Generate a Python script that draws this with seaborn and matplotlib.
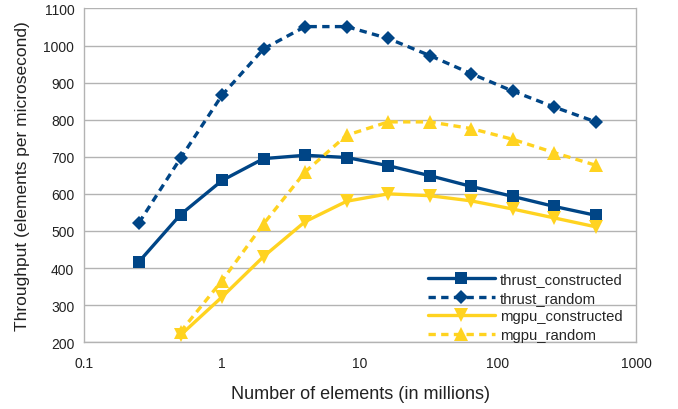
import matplotlib
matplotlib.use("Agg")
import matplotlib.pyplot as plt
from matplotlib.ticker import FixedLocator, FixedFormatter, NullLocator
import pandas as pd
import seaborn as sns

# values (x in millions of elements)
SIZES_THRUST = [0.25, 0.5, 1, 2, 4, 8, 16, 32, 64, 128, 256, 512]
SIZES_MGPU = [0.5, 1, 2, 4, 8, 16, 32, 64, 128, 256, 512]
THRUST_CONSTRUCTED = [417, 544, 636, 695, 704, 698, 676, 649, 620, 593, 566, 542]
THRUST_RANDOM = [522, 696, 866, 991, 1051, 1051, 1019, 973, 924, 877, 834, 794]
MGPU_CONSTRUCTED = [219, 322, 431, 525, 580, 600, 595, 581, 559, 535, 511]
MGPU_RANDOM = [228, 366, 519, 659, 758, 794, 794, 776, 747, 711, 677]
SERIES = ["thrust_constructed", "thrust_random", "mgpu_constructed", "mgpu_random"]
X_TICKS = [0.1, 1, 10, 100, 1000]
X_TICK_LABELS = ["0.1", "1", "10", "100", "1000"]
Y_TICKS = list(range(200, 1101, 100))

BLUE = "#004586"
YELLOW = "#ffd320"


def build_frame():
    parts = []
    for name, xs, ys in [
            ("thrust_constructed", SIZES_THRUST, THRUST_CONSTRUCTED),
            ("thrust_random", SIZES_THRUST, THRUST_RANDOM),
            ("mgpu_constructed", SIZES_MGPU, MGPU_CONSTRUCTED),
            ("mgpu_random", SIZES_MGPU, MGPU_RANDOM)]:
        parts.append(pd.DataFrame({"size": xs, "throughput": ys, "series": name}))
    return pd.concat(parts, ignore_index=True)


def main():
    sns.set_theme(style="white")
    plt.rcParams["font.family"] = ["Liberation Sans", "DejaVu Sans"]
    df = build_frame()

    fig = plt.figure(figsize=(6.78, 4.10), dpi=100)
    ax = fig.add_axes([0.124, 0.163, 0.814, 0.814])
    sns.lineplot(data=df, x="size", y="throughput", hue="series", style="series",
                 hue_order=SERIES, style_order=SERIES,
                 palette={"thrust_constructed": BLUE, "thrust_random": BLUE,
                          "mgpu_constructed": YELLOW, "mgpu_random": YELLOW},
                 markers={"thrust_constructed": "s", "thrust_random": "D",
                          "mgpu_constructed": "v", "mgpu_random": "^"},
                 dashes={"thrust_constructed": "", "thrust_random": (2.2, 1.6),
                         "mgpu_constructed": "", "mgpu_random": (2.2, 1.6)},
                 linewidth=2.4, markersize=9, markeredgewidth=0, ax=ax)
    # per-marker sizes tuned to the original
    for line in ax.lines:
        if line.get_marker() == "D":
            line.set_markersize(7)
        elif line.get_marker() in ("v", "^"):
            line.set_markersize(10)

    ax.set_xscale("log")
    ax.set_xlim(0.1, 1000)
    ax.set_ylim(200, 1100)
    ax.xaxis.set_major_locator(FixedLocator(X_TICKS))
    ax.xaxis.set_major_formatter(FixedFormatter(X_TICK_LABELS))
    ax.xaxis.set_minor_locator(NullLocator())
    ax.set_yticks(Y_TICKS)

    ax.yaxis.grid(True, color="#b3b3b3", lw=1)
    ax.xaxis.grid(False)
    for side in ["left", "bottom", "right", "top"]:
        ax.spines[side].set_color("#b3b3b3")
        ax.spines[side].set_linewidth(1)
    ax.spines["top"].set_visible(False)
    ax.tick_params(axis="both", which="major", length=4, width=1, color="#b3b3b3",
                   labelsize=10, labelcolor="#222222", pad=3)
    ax.tick_params(axis="x", pad=6)

    ax.set_xlabel("Number of elements (in millions)", fontsize=13,
                  color="#222222", labelpad=11)
    ax.set_ylabel("Throughput (elements per microsecond)", fontsize=12.5,
                  color="#222222", labelpad=10)

    handles, labels = ax.get_legend_handles_labels()
    ax.legend(handles, labels, loc="lower right", bbox_to_anchor=(0.995, -0.03),
              frameon=False, fontsize=10.7, handlelength=4.5, handletextpad=0.35,
              labelspacing=0.3, borderaxespad=0.3)

    fig.savefig("out.png", dpi=100)
    plt.close(fig)


if __name__ == "__main__":
    main()
